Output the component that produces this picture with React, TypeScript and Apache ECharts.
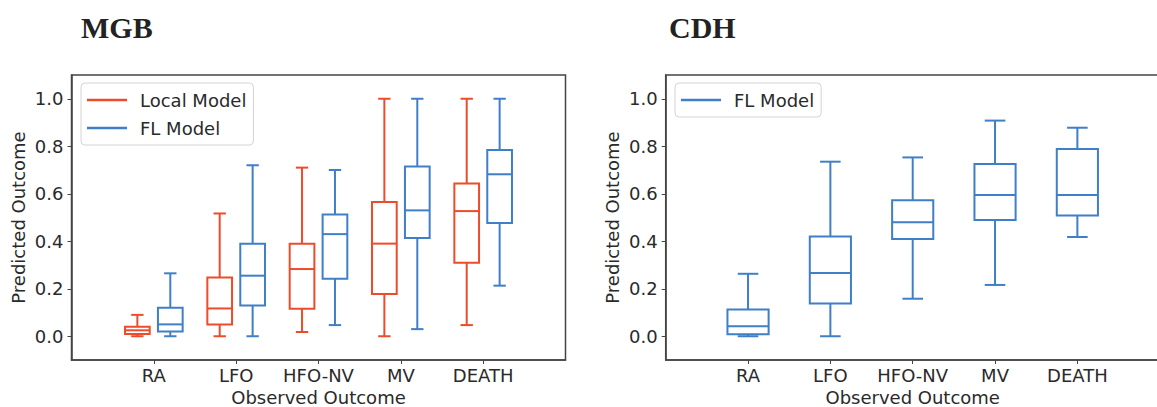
import React, { useEffect, useRef } from "react";
import * as echarts from "echarts";

// ---- data ----
const categories = ["RA", "LFO", "HFO-NV", "MV", "DEATH"];
const yTicks = [0, 0.2, 0.4, 0.6, 0.8, 1.0];
// each entry: [lower whisker, Q1, median, Q3, upper whisker]
const mgbLocal = [
  [0.0, 0.01, 0.025, 0.04, 0.09],
  [0.0, 0.05, 0.117, 0.247, 0.517],
  [0.018, 0.116, 0.283, 0.39, 0.71],
  [0.0, 0.178, 0.39, 0.565, 1.0],
  [0.047, 0.31, 0.527, 0.643, 1.0],
];
const mgbFL = [
  [0.0, 0.02, 0.05, 0.12, 0.265],
  [0.0, 0.13, 0.255, 0.39, 0.72],
  [0.047, 0.242, 0.43, 0.513, 0.7],
  [0.03, 0.414, 0.53, 0.715, 1.0],
  [0.213, 0.477, 0.682, 0.784, 1.0],
];
const cdhFL = [
  [0.0, 0.008, 0.042, 0.113, 0.263],
  [0.0, 0.138, 0.266, 0.42, 0.735],
  [0.158, 0.41, 0.48, 0.573, 0.753],
  [0.216, 0.49, 0.595, 0.725, 0.908],
  [0.418, 0.508, 0.595, 0.788, 0.878],
];

const RED = "#EE4B2B";
const BLUE = "#3F7FC8";
const AXIS = "#444";
const FONT = "DejaVu Sans";
const TEXT = "#2a2a2a";

function makeRender(boxW: number, color: string) {
  return (params: any, api: any) => {
    const x = api.value(0);
    const lo = api.value(1);
    const q1 = api.value(2);
    const md = api.value(3);
    const q3 = api.value(4);
    const hi = api.value(5);
    const tl = api.coord([x - boxW / 2, q3]);
    const br = api.coord([x + boxW / 2, q1]);
    const cm = api.coord([x, md]);
    const pHi = api.coord([x, hi]);
    const pLo = api.coord([x, lo]);
    const capL = api.coord([x - boxW / 4, hi]);
    const capR = api.coord([x + boxW / 4, lo]);
    const style = { stroke: color, lineWidth: 2, fill: "none" };
    return {
      type: "group",
      children: [
        { type: "line", shape: { x1: pHi[0], y1: pHi[1], x2: pHi[0], y2: tl[1] }, style },
        { type: "line", shape: { x1: pLo[0], y1: br[1], x2: pLo[0], y2: pLo[1] }, style },
        { type: "line", shape: { x1: capL[0], y1: pHi[1], x2: capR[0], y2: pHi[1] }, style },
        { type: "line", shape: { x1: capL[0], y1: pLo[1], x2: capR[0], y2: pLo[1] }, style },
        {
          type: "rect",
          shape: { x: tl[0], y: tl[1], width: br[0] - tl[0], height: br[1] - tl[1] },
          style,
        },
        { type: "line", shape: { x1: tl[0], y1: cm[1], x2: br[0], y2: cm[1] }, style },
      ],
    };
  };
}

function toData(values: number[][], offset: number) {
  return values.map((v, i) => [i + 1 + offset, ...v]);
}

function xAxisFor(gridIndex: number) {
  return {
    gridIndex,
    type: "value",
    min: 0,
    max: 6,
    interval: 1,
    name: "Observed Outcome",
    nameLocation: "middle",
    nameGap: 28,
    nameTextStyle: { fontFamily: FONT, fontSize: 18, color: TEXT },
    axisLine: { show: true, onZero: false, lineStyle: { color: AXIS, width: 1.5 } },
    axisTick: { show: true, length: 4, customValues: [1, 2, 3, 4, 5], lineStyle: { color: AXIS, width: 1 } },
    axisLabel: {
      customValues: [1, 2, 3, 4, 5],
      formatter: (v: number) => categories[Math.round(v) - 1] ?? "",
      fontFamily: FONT,
      fontSize: 18,
      color: TEXT,
      margin: 6,
    },
    splitLine: { show: false },
  };
}

function yAxisFor(gridIndex: number) {
  return {
    gridIndex,
    type: "value",
    min: -0.1,
    max: 1.1,
    name: "Predicted Outcome",
    nameLocation: "middle",
    nameGap: 44,
    nameTextStyle: { fontFamily: FONT, fontSize: 18, color: TEXT },
    axisLine: { show: true, onZero: false, lineStyle: { color: AXIS, width: 1.5 } },
    axisTick: { show: true, length: 4, customValues: yTicks, lineStyle: { color: AXIS, width: 1 } },
    axisLabel: {
      customValues: yTicks,
      formatter: (v: number) => v.toFixed(1),
      fontFamily: FONT,
      fontSize: 18,
      color: TEXT,
      margin: 8,
    },
    splitLine: { show: false },
  };
}

const legendBase = {
  orient: "vertical",
  top: 83,
  itemWidth: 40,
  itemHeight: 2.5,
  itemGap: 10,
  padding: [8, 7, 8, 6],
  backgroundColor: "#fff",
  borderColor: "#d4d4d4",
  borderWidth: 1,
  borderRadius: 4,
  selectedMode: false,
  textStyle: { fontFamily: FONT, fontSize: 18, color: TEXT, padding: [0, 0, 0, 8] },
};

const gridBase = {
  top: 75,
  width: 494,
  height: 285,
  show: true,
  borderColor: AXIS,
  borderWidth: 1.5,
  backgroundColor: "transparent",
  containLabel: false,
  outerBoundsMode: "none",
};

export default function App() {
  const ref = useRef<HTMLDivElement>(null);
  useEffect(() => {
    if (!ref.current) return;
    const chart = echarts.init(ref.current, undefined, { renderer: "svg" });
    const titleStyle = { fontFamily: "Liberation Serif", fontWeight: "bold", fontSize: 30, color: "#222" };
    chart.setOption({
      animation: false,
      backgroundColor: "#fff",
      title: [
        { text: "MGB", left: 81, top: 12, padding: 0, textStyle: titleStyle },
        { text: "CDH", left: 669, top: 12, padding: 0, textStyle: titleStyle },
      ],
      legend: [
        {
          ...legendBase,
          left: 81,
          data: [
            { name: "Local Model", icon: "rect" },
            { name: "FL Model", icon: "rect" },
          ],
        },
        {
          ...legendBase,
          left: 675,
          data: [{ name: "FL Model", icon: "rect" }],
        },
      ],
      grid: [
        { ...gridBase, left: 71.5 },
        { ...gridBase, left: 665.7 },
      ],
      xAxis: [xAxisFor(0), xAxisFor(1)],
      yAxis: [yAxisFor(0), yAxisFor(1)],
      series: [
        {
          type: "custom",
          name: "Local Model",
          xAxisIndex: 0,
          yAxisIndex: 0,
          itemStyle: { color: RED },
          renderItem: makeRender(0.3, RED),
          encode: { x: 0, y: [1, 2, 3, 4, 5] },
          data: toData(mgbLocal, -0.2),
        },
        {
          type: "custom",
          name: "FL Model",
          xAxisIndex: 0,
          yAxisIndex: 0,
          itemStyle: { color: BLUE },
          renderItem: makeRender(0.3, BLUE),
          encode: { x: 0, y: [1, 2, 3, 4, 5] },
          data: toData(mgbFL, 0.2),
        },
        {
          type: "custom",
          name: "FL Model",
          xAxisIndex: 1,
          yAxisIndex: 1,
          itemStyle: { color: BLUE },
          renderItem: makeRender(0.5, BLUE),
          encode: { x: 0, y: [1, 2, 3, 4, 5] },
          data: toData(cdhFL, 0),
        },
      ],
    });
    return () => chart.dispose();
  }, []);
  return (
    <div
      ref={ref}
      style={{ position: "absolute", left: 0, top: 0, width: 1157, height: 407 }}
    />
  );
}
